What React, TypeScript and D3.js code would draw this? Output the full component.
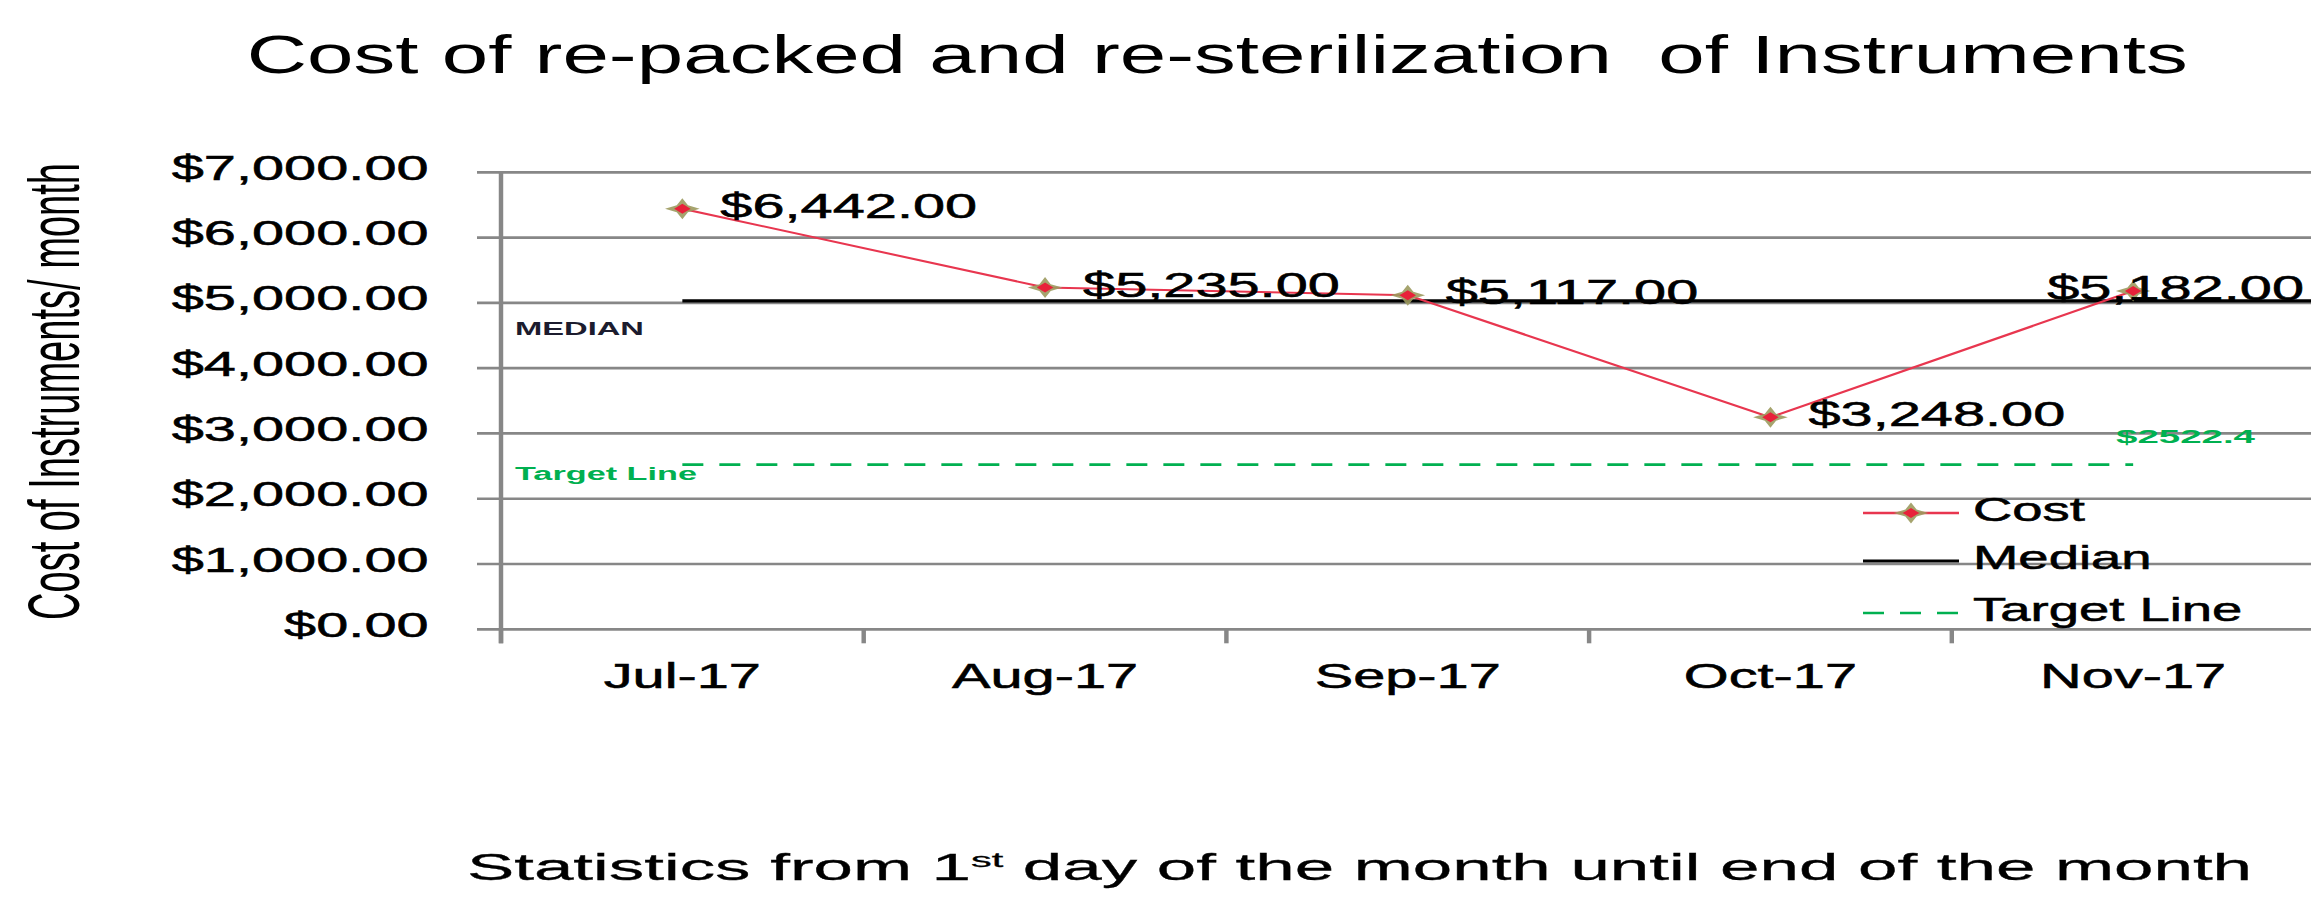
import React from "react";
import * as d3 from "d3";

const months = ["Jul-17", "Aug-17", "Sep-17", "Oct-17", "Nov-17"];
const costValues = [6442, 5235, 5117, 3248, 5182];
const medianValue = 5030;
const targetValue = 2522.4;
const yTickValues = [0, 1000, 2000, 3000, 4000, 5000, 6000, 7000];
const legendItems = ["Cost", "Median", "Target Line"];

const titleText = "Cost of re-packed and re-sterilization\u00a0 of Instruments";
const yTitleText = "Cost of Instruments/ month";

const W = 2311;
const H = 901;
const S = 1.65; // horizontal stretch of the original picture
const VW = W / S;
const fx = (v: number) => v / S;

const FONT = "'Liberation Sans', Arial, sans-serif";
const RED = "#E8364F";
const GREEN = "#00B050";
const GRID = "#878787";

function Marker({ cx, cy }: { cx: number; cy: number }) {
  const r = 10.5;
  const k = 3.4;
  const star = `M${cx},${cy - r} L${cx + k},${cy - k} L${cx + r},${cy} L${cx + k},${cy + k} L${cx},${cy + r} L${cx - k},${cy + k} L${cx - r},${cy} L${cx - k},${cy - k} Z`;
  const inner = `M${cx},${cy - 5} L${cx + 5},${cy} L${cx},${cy + 5} L${cx - 5},${cy} Z`;
  return (
    <g>
      <path d={star} fill="#9C9A5E" opacity={0.9} />
      <path d={inner} fill="#E8213A" />
    </g>
  );
}

export default function App() {
  const plotLeft = fx(501);
  const step = fx(362.7);
  const plotRight = plotLeft + step * months.length;
  const x = d3.scaleBand<string>().domain(months).range([plotLeft, plotRight]).padding(0);
  const y = d3.scaleLinear().domain([0, 7000]).range([629.3, 172.3]);
  const cx = (m: string) => (x(m) as number) + x.bandwidth() / 2;
  const fmt = d3.format("$,.2f");
  const gridLeft = fx(477);
  const gridRight = Math.min(plotRight, VW);

  const costPts: [number, number][] = months.map((m, i) => [cx(m), y(costValues[i])]);
  const line = d3.line();

  const boundaries = d3.range(months.length + 1).map((i) => plotLeft + i * step);

  const dash = `${fx(21)} ${fx(16)}`;
  const labelW = fx(257);
  const heavy = { stroke: "#000", strokeWidth: 0.55 };

  return (
    <svg
      width={W}
      height={H}
      viewBox={`0 0 ${VW} ${H}`}
      preserveAspectRatio="none"
      style={{ position: "absolute", left: 0, top: 0, background: "#fff" }}
      fontFamily={FONT}
    >
      <rect x={0} y={0} width={VW} height={H} fill="#fff" />
      {/* Title */}
      <text x={fx(246.7)} y={73.3} fontSize={53} textLength={fx(1941)} lengthAdjust="spacingAndGlyphs" fill="#000">
        {titleText}
      </text>

      {/* Gridlines */}
      {yTickValues.map((v) => (
        <line key={v} x1={gridLeft} x2={gridRight} y1={y(v)} y2={y(v)} stroke={GRID} strokeWidth={2.7} />
      ))}
      {/* Y axis */}
      <line x1={plotLeft} x2={plotLeft} y1={y(7000)} y2={y(0) + 14} stroke={GRID} strokeWidth={2.7} />
      {/* X ticks */}
      {boundaries.map((b, i) => (
        <line key={i} x1={b} x2={b} y1={y(0)} y2={y(0) + 14} stroke={GRID} strokeWidth={2.7} />
      ))}

      {/* Y tick labels */}
      {yTickValues.map((v) => (
        <text key={v} x={fx(428.6)} y={y(v) + 7.5} fontSize={35} textAnchor="end" fill="#000" {...heavy}>
          {fmt(v)}
        </text>
      ))}

      {/* X labels */}
      {months.map((m) => (
        <text key={m} x={cx(m)} y={688.3} fontSize={35} textAnchor="middle" fill="#000" {...heavy}>
          {m}
        </text>
      ))}

      {/* Target line */}
      <line
        x1={cx(months[0])}
        x2={cx(months[months.length - 1])}
        y1={y(targetValue)}
        y2={y(targetValue)}
        stroke={GREEN}
        strokeWidth={2.6}
        strokeDasharray={dash}
      />
      {/* Median line */}
      <line x1={cx(months[0])} x2={gridRight} y1={y(medianValue)} y2={y(medianValue)} stroke="#000" strokeWidth={3.2} />

      {/* Cost line */}
      <path d={line(costPts) || ""} fill="none" stroke={RED} strokeWidth={2} />
      {costPts.map(([px, py], i) => (
        <Marker key={i} cx={px} cy={py} />
      ))}

      {/* Data labels */}
      {costPts.map(([px, py], i) => {
        const sx = px + fx(38);
        const limit = VW - fx(7);
        const overflow = sx + labelW > limit;
        return (
          <text
            key={i}
            x={overflow ? limit : sx}
            y={py + 9}
            fontSize={35}
            textAnchor={overflow ? "end" : "start"}
            fill="#000"
            {...heavy}
          >
            {fmt(costValues[i])}
          </text>
        );
      })}

      {/* Small annotations */}
      <text x={fx(515)} y={335} fontSize={18} fontWeight="bold" fill="#1c1c2e" textLength={fx(129)} lengthAdjust="spacingAndGlyphs">
        MEDIAN
      </text>
      <text x={fx(515)} y={480} fontSize={18} fontWeight="bold" fill={GREEN} textLength={fx(182)} lengthAdjust="spacingAndGlyphs">
        Target Line
      </text>
      <text x={fx(2116)} y={443} fontSize={19} fontWeight="bold" fill={GREEN} textLength={fx(139)} lengthAdjust="spacingAndGlyphs">
        {"$" + targetValue}
      </text>

      {/* Legend */}
      {legendItems.map((name, i) => {
        const ly = [513, 561, 613][i];
        const x1 = fx(1863);
        const x2 = fx(1959);
        return (
          <g key={name}>
            {i === 0 && (
              <>
                <line x1={x1} x2={x2} y1={ly} y2={ly} stroke={RED} strokeWidth={2.4} />
                <Marker cx={fx(1911)} cy={ly} />
              </>
            )}
            {i === 1 && <line x1={x1} x2={x2} y1={ly} y2={ly} stroke="#000" strokeWidth={3} />}
            {i === 2 && (
              <line x1={x1} x2={x2} y1={ly} y2={ly} stroke={GREEN} strokeWidth={2.6} strokeDasharray={dash} />
            )}
            <text x={fx(1973)} y={ly + 8} fontSize={33} fill="#000" {...heavy}>
              {name}
            </text>
          </g>
        );
      })}

      {/* Y axis title */}
      <text
        transform={`translate(${fx(79)},391.5) rotate(-90)`}
        textAnchor="middle"
        fontSize={44}
        textLength={457}
        lengthAdjust="spacingAndGlyphs"
        fill="#000"
      >
        {yTitleText}
      </text>

      {/* X axis title */}
      <text x={fx(467)} y={880} fontSize={36} textLength={fx(1785)} lengthAdjust="spacingAndGlyphs" fill="#000" stroke="#000" strokeWidth={0.3}>
        <tspan>Statistics from 1</tspan>
        <tspan fontSize={21} dy={-13}>st</tspan>
        <tspan dy={13}> day of the month until end of the month</tspan>
      </text>
    </svg>
  );
}
